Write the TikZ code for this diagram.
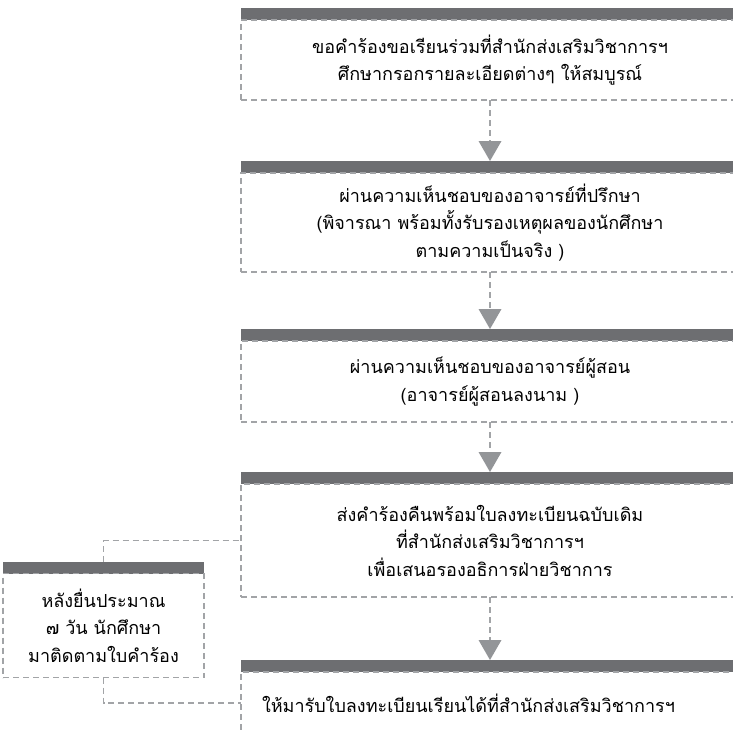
\documentclass[tikz,border=0pt]{standalone}
\usepackage{fontspec}
\newfontfamily\thaifont[Script=Thai]{Loma}
\usetikzlibrary{positioning,arrows.meta}
\definecolor{bargray}{HTML}{6D6E71}
\definecolor{dashgray}{HTML}{A2A4A7}
\definecolor{arrowgray}{HTML}{939598}

\begin{document}
\begin{tikzpicture}[
    x=1pt, y=-1pt,
    font=\thaifont\fontsize{18}{27.5}\selectfont,
    bar/.style={rectangle, fill=bargray, minimum width=498pt, minimum height=12pt, inner sep=0pt, outer sep=0pt},
    box/.style={rectangle, draw=dashgray, line width=1.1pt, dash pattern=on 6pt off 4pt, text width=470pt, align=center, inner xsep=14pt, inner ysep=0pt, outer sep=0pt},
    flow/.style={draw=dashgray, line width=1.3pt, dash pattern=on 6pt off 4pt, -{Triangle[width=23pt, length=20pt, color=arrowgray, fill=arrowgray, line width=0pt]}},
    link/.style={draw=dashgray, line width=1.1pt, dash pattern=on 6pt off 4pt}
]
    \useasboundingbox (0,0) rectangle (733,732);

    % main column
    \node[bar] (bar1) at (490,14) {};
    \node[box, below=0pt of bar1, minimum height=80pt] (b1) {ขอคำร้องขอเรียนร่วมที่สำนักส่งเสริมวิชาการฯ\\ศึกษากรอกรายละเอียดต่างๆ ให้สมบูรณ์};
    \node[bar, below=61pt of b1] (bar2) {};
    \node[box, below=0pt of bar2, minimum height=99pt] (b2) {ผ่านความเห็นชอบของอาจารย์ที่ปรึกษา\\(พิจารณา พร้อมทั้งรับรองเหตุผลของนักศึกษา\\ตามความเป็นจริง )};
    \node[bar, below=57pt of b2] (bar3) {};
    \node[box, below=0pt of bar3, minimum height=81pt] (b3) {ผ่านความเห็นชอบของอาจารย์ผู้สอน\\(อาจารย์ผู้สอนลงนาม )};
    \node[bar, below=50pt of b3] (bar4) {};
    \node[box, below=0pt of bar4, minimum height=113pt] (b4) {ส่งคำร้องคืนพร้อมใบลงทะเบียนฉบับเดิม\\ที่สำนักส่งเสริมวิชาการฯ\\เพื่อเสนอรองอธิการฝ่ายวิชาการ};
    \node[bar, below=63pt of b4] (bar5) {};
    \node[box, below=0pt of bar5, minimum height=62pt, align=left, inner xsep=21pt, text width=456pt] (b5) {ให้มารับใบลงทะเบียนเรียนได้ที่สำนักส่งเสริมวิชาการฯ};

    % side note
    \node[bar, minimum width=201pt] (sidebar) at (103.5,567.5) {};
    \node[box, below=0pt of sidebar, minimum height=104pt, text width=185pt, inner xsep=8pt] (side) {หลังยื่นประมาณ\\๗ วัน นักศึกษา\\มาติดตามใบคำร้อง};

    \draw[flow] (b1) -- (bar2);
    \draw[flow] (b2) -- (bar3);
    \draw[flow] (b3) -- (bar4);
    \draw[flow] (b4) -- (bar5);
    \draw[link] (sidebar) |- (b4);
    \draw[link] (side) |- (b5);
\end{tikzpicture}
\end{document}
